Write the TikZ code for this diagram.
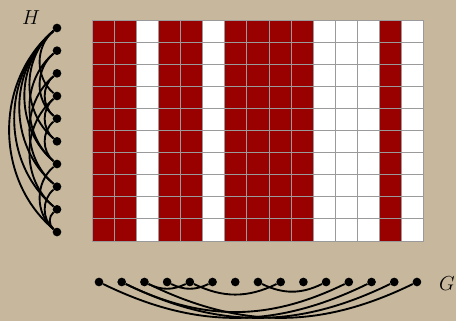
\documentclass[tikz,border=0pt]{standalone}
\usepackage{tikz}
\usetikzlibrary{calc}
\definecolor{sand}{HTML}{C7B89D}
\definecolor{wine}{HTML}{990000}
\definecolor{rule}{HTML}{9A9A9A}

\begin{document}
\begin{tikzpicture}[x=0.03cm,y=-0.03cm,
  dot/.style={circle,fill=black,inner sep=0pt,minimum size=0.26cm},
  arc/.style={line width=1.6pt,black},
  lbl/.style={font=\fontsize{18}{20}\selectfont},
  cellon/.style={fill=wine,draw=rule,line width=0.8pt},
  celloff/.style={fill=white,draw=rule,line width=0.8pt}]
  \fill[sand] (0,0) rectangle (456,321);
  \useasboundingbox (0,0) rectangle (456,321);
  % matrix of the columns
  \foreach \c [count=\i from 0] in {1,1,0,1,1,0,1,1,1,1,0,0,0,1,0} {
    \foreach \j in {0,...,9} {
      \ifnum\c=1
        \draw[cellon] ({92+22.13*\i},{20+22.1*\j}) rectangle ++(22.13,22.1);
      \else
        \draw[celloff] ({92+22.13*\i},{20+22.1*\j}) rectangle ++(22.13,22.1);
      \fi
    }
  }
  % graph H
  \foreach \i in {1,...,10} \node[dot] (h\i) at (57,{28+22.67*(\i-1)}) {};
  \foreach \a/\b in {1/4,1/6,1/7,1/8,1/9,1/10,2/5,2/7,3/5,3/8,4/6,4/9,5/7,7/10,8/10,9/10}
    \draw[arc] (h\a) to[bend right=50] (h\b);
  \node[lbl] (hl) at (31,18) {$H$};
  % graph G
  \foreach \i in {1,...,15} \node[dot] (g\i) at ({99+22.71*(\i-1)},282) {};
  \foreach \a/\b in {1/13,2/12,2/14,3/5,3/15,4/6,5/9,8/11}
    \draw[arc] (g\a) to[bend right=26] (g\b);
  \node[lbl] (gl) at (447,284) {$G$};
\end{tikzpicture}
\end{document}
